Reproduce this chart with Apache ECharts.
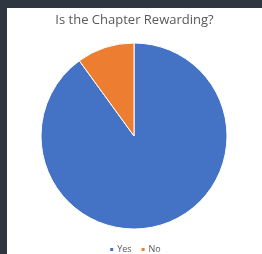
<!DOCTYPE html>
<html>
<head>
<meta charset="utf-8">
<script src="https://cdn.jsdelivr.net/npm/echarts@6/dist/echarts.min.js"></script>
<style>
  html, body { margin: 0; padding: 0; background: #2e3640; width: 262px; height: 254px; overflow: hidden; }
  #chart { position: absolute; left: 7px; top: 8px; width: 255px; height: 246px; background: #fff; }
</style>
</head>
<body>
<div id="chart"></div>
<script>
const categories = ['Yes', 'No'];
const values = [90, 10];
const colors = ['#4472c4', '#ed7d31'];

const chart = echarts.init(document.getElementById('chart'));
chart.setOption({
  animation: false,
  title: {
    text: 'Is the Chapter Rewarding?',
    left: 'center',
    top: 1,
    textStyle: { fontFamily: 'Open Sans', fontSize: 13, fontWeight: 'normal', color: '#595959' }
  },
  legend: {
    data: categories,
    top: 232,
    left: 'center',
    icon: 'rect',
    itemWidth: 5,
    itemHeight: 5,
    itemGap: 8,
    textStyle: { fontFamily: 'Open Sans', fontSize: 9, color: '#595959', padding: [0, 0, 0, -2] }
  },
  series: [{
    type: 'pie',
    center: [127, 128],
    radius: 93,
    startAngle: 90,
    label: { show: false },
    labelLine: { show: false },
    itemStyle: { borderColor: '#fff', borderWidth: 1 },
    data: categories.map((c, i) => ({ name: c, value: values[i], itemStyle: { color: colors[i] } }))
  }]
});
</script>
</body>
</html>
